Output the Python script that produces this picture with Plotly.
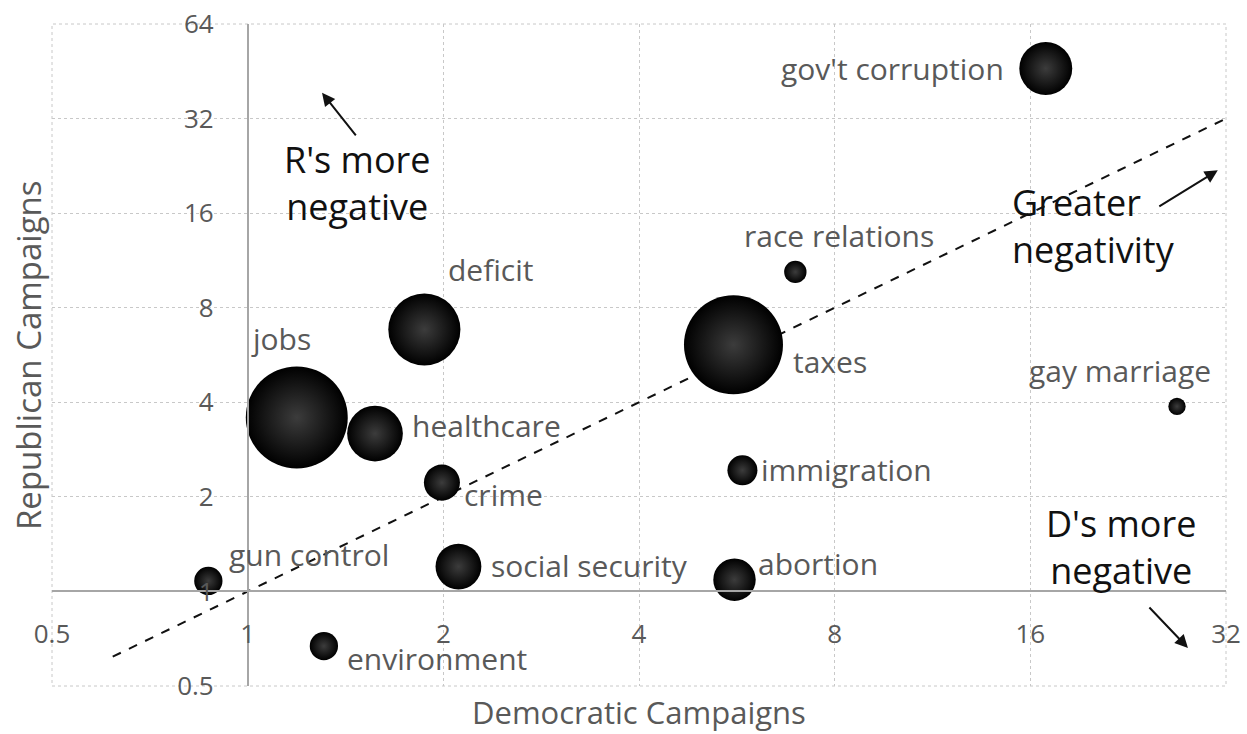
import numpy as np
import plotly.graph_objects as go

# Issue bubbles: share of negative ads by Democratic vs Republican campaigns
issues = ["gov't corruption", "race relations", "taxes", "deficit", "jobs",
          "healthcare", "crime", "immigration", "gay marriage",
          "social security", "abortion", "gun control", "environment"]
dem_campaigns = [16.9, 6.96, 5.59, 1.87, 1.19, 1.57, 1.99, 5.77, 26.9, 2.11, 5.61, 0.87, 1.31]
rep_campaigns = [46.2, 10.4, 6.1, 6.82, 3.58, 3.18, 2.22, 2.43, 3.88, 1.20, 1.09, 1.08, 0.67]
ad_volume = [28, 5, 98, 52, 104, 31, 13, 9, 3, 21, 18, 8, 8]

x_ticks = [0.5, 1, 2, 4, 8, 16, 32]
y_ticks = [0.5, 1, 2, 4, 8, 16, 32, 64]
parity_line = [0.62, 32]

# label placement (pixel offsets from each bubble centre)
label_style = {
    "gov't corruption": ("right", -40, 0),
    "race relations": ("left", -53, 36),
    "taxes": ("left", 58, -17),
    "deficit": ("left", 22, 60),
    "jobs": ("left", -48, 79),
    "healthcare": ("left", 35, 8),
    "crime": ("left", 20, -12),
    "immigration": ("left", 17, 1),
    "gay marriage": ("left", -150, 36),
    "social security": ("left", 31, 1),
    "abortion": ("left", 22, 16),
    "gun control": ("left", 19, 26),
    "environment": ("left", 21, -12),
}

FONT = "Open Sans"
GREY = "#595959"

fig = go.Figure()

fig.add_trace(go.Scatter(
    x=parity_line, y=parity_line, mode="lines",
    line=dict(color="#111111", width=2, dash="dash"),
    hoverinfo="skip", showlegend=False,
))

fig.add_trace(go.Scatter(
    x=dem_campaigns, y=rep_campaigns, mode="markers",
    marker=dict(
        size=ad_volume, sizemode="area", sizeref=0.02,
        color="#000000",
        gradient=dict(type="radial", color="#3c3c3c"),
        line=dict(width=0),
        opacity=1,
    ),
    text=issues, hoverinfo="text", showlegend=False,
))

annotations = []
for name, xv, yv in zip(issues, dem_campaigns, rep_campaigns):
    anchor, dx, dy = label_style[name]
    annotations.append(dict(
        x=np.log10(xv), y=np.log10(yv), xref="x", yref="y",
        text=name, showarrow=False, xanchor=anchor, yanchor="middle",
        xshift=dx, yshift=dy,
        font=dict(family=FONT, size=30, color=GREY),
    ))

big_font = dict(family=FONT, size=36, color="#111111")
annotations += [
    dict(x=0.2606, y=0.760, xref="paper", yref="paper", text="R's more<br>negative",
         showarrow=False, xanchor="center", yanchor="middle", align="center", font=big_font),
    dict(x=0.816, y=0.695, xref="paper", yref="paper", text="Greater<br>negativity",
         showarrow=False, xanchor="left", yanchor="middle", align="left", font=big_font),
    dict(x=0.9106, y=0.21, xref="paper", yref="paper", text="D's more<br>negative",
         showarrow=False, xanchor="center", yanchor="middle", align="center", font=big_font),
    # direction arrows
    dict(x=0.230, y=0.896, xref="paper", yref="paper", text="", showarrow=True,
         ax=35, ay=44, arrowhead=2, arrowsize=1.3, arrowwidth=2, arrowcolor="#111111"),
    dict(x=0.993, y=0.779, xref="paper", yref="paper", text="", showarrow=True,
         ax=-60, ay=37, arrowhead=2, arrowsize=1.3, arrowwidth=2, arrowcolor="#111111"),
    dict(x=0.9676, y=0.0574, xref="paper", yref="paper", text="", showarrow=True,
         ax=-40, ay=-42, arrowhead=2, arrowsize=1.3, arrowwidth=2, arrowcolor="#111111"),
    # axis titles
    dict(x=0.5, y=0, xref="paper", yref="paper", yshift=-26, text="Democratic Campaigns",
         showarrow=False, xanchor="center", yanchor="middle",
         font=dict(family=FONT, size=31, color=GREY)),
    dict(x=0, y=0.5, xref="paper", yref="paper", xshift=-24, text="Republican Campaigns",
         showarrow=False, xanchor="center", yanchor="middle", textangle=-90,
         font=dict(family=FONT, size=33, color=GREY)),
]

axis_common = dict(
    type="log", showgrid=True, gridcolor="#c8c8c8", griddash="dot", gridwidth=1,
    showline=True, linecolor="#a6a6a6", linewidth=1.5,
    ticks="", zeroline=False, anchor="free", automargin=False,
    tickfont=dict(family=FONT, size=26, color=GREY),
)

fig.update_layout(
    width=1247, height=734,
    margin=dict(l=52, r=21, t=24, b=48),
    paper_bgcolor="white", plot_bgcolor="white",
    xaxis=dict(axis_common, range=[np.log10(0.5), np.log10(32)],
               tickvals=x_ticks, ticktext=[str(v) for v in x_ticks],
               position=1 / 7, ticklabelstandoff=20),
    yaxis=dict(axis_common, range=[np.log10(0.5), np.log10(64)],
               tickvals=y_ticks, ticktext=[str(v) for v in y_ticks],
               position=1 / 6, ticklabelstandoff=28),
    annotations=annotations,
    shapes=[dict(type="rect", xref="paper", yref="paper", x0=0, y0=0, x1=1, y1=1,
                 line=dict(color="#c8c8c8", width=1, dash="dot"), layer="below")],
    font=dict(family=FONT),
)

fig.write_html("out.html")
